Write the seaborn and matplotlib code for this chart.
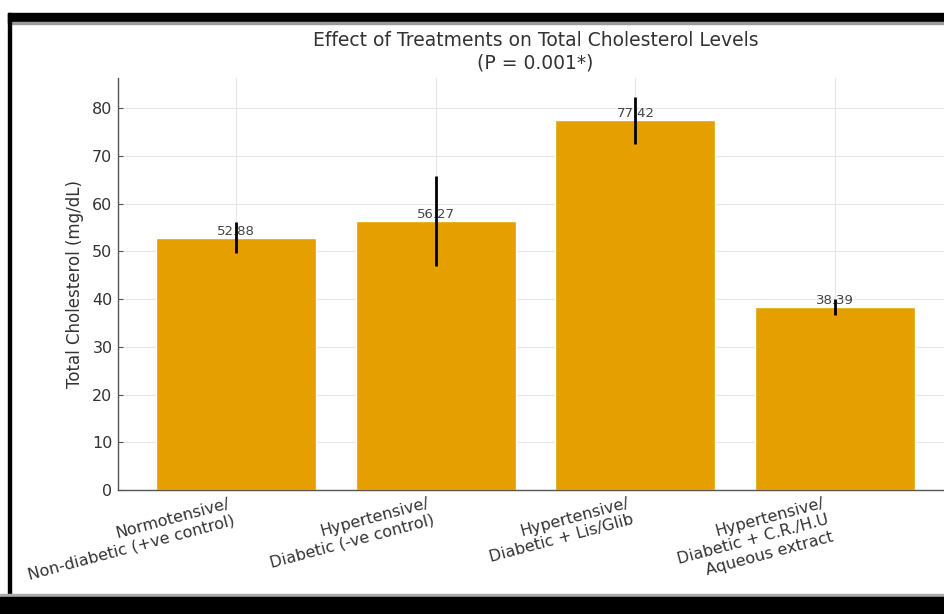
import matplotlib
matplotlib.use("Agg")
import matplotlib.pyplot as plt
import seaborn as sns
import pandas as pd
from matplotlib.patches import Rectangle

categories = [
    "Normotensive/\nNon-diabetic (+ve control)",
    "Hypertensive/\nDiabetic (-ve control)",
    "Hypertensive/\nDiabetic + Lis/Glib",
    "Hypertensive/\nDiabetic + C.R./H.U\nAqueous extract",
]
means = [52.88, 56.27, 77.42, 38.39]
errors = [3.3, 9.4, 4.9, 1.7]
yticks = [0, 10, 20, 30, 40, 50, 60, 70, 80]

sns.set_theme(style="ticks")
plt.rcParams["font.family"] = ["DejaVu Sans"]

W, H = 945, 614
fig = plt.figure(figsize=(W / 100, H / 100), dpi=100)
fig.patch.set_facecolor("white")

ax = fig.add_axes([118 / W, (H - 490) / H, 835 / W, 412 / H])
df = pd.DataFrame({"group": categories, "value": means})
sns.barplot(data=df, x="group", y="value", color="#E69F00", saturation=1,
            width=0.8, errorbar=None, ax=ax, zorder=2)
ax.errorbar(range(len(means)), means, yerr=errors, fmt="none", ecolor="black",
            elinewidth=2, capsize=0, zorder=4)
for i, m in enumerate(means):
    ax.text(i, m, f"{m:.2f}", ha="center", va="bottom", fontsize=9.5,
            color="#444444", zorder=3)

ax.set_xlim(-0.59, 3.59)
ax.set_ylim(0, 86.3)
ax.set_yticks(yticks)
ax.grid(True, color="#e6e6e6", linewidth=0.8, zorder=0)
ax.set_axisbelow(True)
ax.set_xlabel("")
ax.set_ylabel("Total Cholesterol (mg/dL)", fontsize=12, color="#333333", labelpad=6)
ax.set_title("Effect of Treatments on Total Cholesterol Levels\n(P = 0.001*)",
             fontsize=13.5, color="#333333", pad=7)
ax.tick_params(axis="both", labelsize=11.5, colors="#555555", labelcolor="#333333",
               length=3.5, width=0.8, direction="in", pad=4)
plt.setp(ax.get_xticklabels(), rotation=15, ha="right")
for s in ["top", "right"]:
    ax.spines[s].set_visible(False)
for s in ["left", "bottom"]:
    ax.spines[s].set_color("#555555")
    ax.spines[s].set_linewidth(1.0)

# screenshot frame
def px_rect(x0, y0, x1, y1, color):
    fig.patches.append(Rectangle((x0 / W, 1 - y1 / H), (x1 - x0) / W, (y1 - y0) / H,
                                 transform=fig.transFigure, color=color, zorder=10))

px_rect(8, 13, W, 22, "black")
px_rect(8, 22, W, 24, "#9a9a9a")
px_rect(8, 13, 11, 597, "black")
px_rect(0, 594, W, 597, "#aaaaaa")
px_rect(0, 597, W, H, "black")

fig.savefig("out.png", dpi=100)
